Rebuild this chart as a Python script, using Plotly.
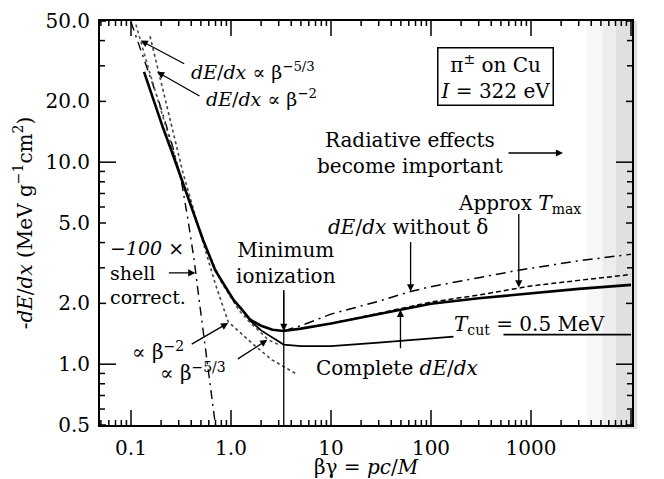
import numpy as np
import plotly.graph_objects as go

FONT = "DejaVu Serif"

# complete dE/dx (thick solid)
bg_complete = [0.135, 0.16, 0.209, 0.257, 0.33, 0.455, 0.526, 0.695, 0.91, 1.06, 1.3, 1.56, 2.0, 2.6,
               3.36, 5.0, 10, 20, 50, 100, 300, 1000, 3000, 10000]
de_complete = [28.0, 21.8, 14.8, 11.2, 7.9, 4.99, 4.12, 2.92, 2.33, 2.08, 1.85, 1.66, 1.55, 1.48,
               1.46, 1.50, 1.59, 1.70, 1.86, 1.99, 2.12, 2.25, 2.36, 2.47]

# dE/dx without density correction (dash-dot)
bg_nodelta = [3.36, 5, 10, 30, 62.5, 100, 300, 755, 3000, 10000]
de_nodelta = [1.46, 1.55, 1.77, 2.05, 2.29, 2.42, 2.68, 2.92, 3.25, 3.5]

# approximate T_max (dashed)
bg_tmax = [10, 20, 50, 100, 300, 1000, 3000, 10000]
de_tmax = [1.59, 1.71, 1.89, 2.03, 2.20, 2.44, 2.60, 2.78]

# restricted loss, T_cut = 0.5 MeV (thin solid, gap under the label)
bg_cut = [1.3, 1.56, 2.0, 2.67, 3.36, 5, 10, 30, 100, 168, None, 530, 1000, 10000]
de_cut = [1.85, 1.64, 1.47, 1.34, 1.25, 1.23, 1.23, 1.28, 1.34, 1.37, None, 1.40, 1.40, 1.40]

# low-energy power laws (dotted)
bg_b53 = [0.112, 0.13, 0.15, 0.2, 0.3, 0.5, 0.8, 1.2, 1.56, 2.0, 2.36, 3.0]
de_b53 = [48, 37, 29, 18, 9.2, 4.35, 2.55, 1.85, 1.60, 1.43, 1.32, 1.25]
bg_b2 = [0.155, 0.182, 0.2, 0.25, 0.33, 0.472, 0.695, 0.938, 1.3, 1.62, 2.57, 4.4]
de_b2 = [42, 30, 24.5, 15.5, 8.9, 4.8, 2.51, 1.62, 1.40, 1.27, 1.05, 0.90]

# -100 x shell correction (dash-dot)
bg_shell = [0.1, 0.138, 0.195, 0.258, 0.317, 0.372, 0.428, 0.48, 0.538, 0.605, 0.664, 0.71]
de_shell = [49.4, 31.3, 19.2, 12.2, 8.2, 5.17, 3.28, 2.08, 1.32, 0.835, 0.593, 0.47]

# minimum ionization marker
bg_min = [3.37, 3.37]
de_min = [0.5, 2.33]

xtick_vals = [0.1, 1, 10, 100, 1000, 10000]
xtick_text = ["0.1", "1.0", "10", "100", "1000", "10\u2009000"]
ytick_vals = [0.5, 1, 2, 5, 10, 20, 50]
ytick_text = ["0.5", "1.0", "2.0", "5.0", "10.0", "20.0", "50.0"]

XRANGE = [-1.31, 4.01]
YRANGE = [np.log10(0.5), np.log10(50)]
PLOT_W, PLOT_H = 532, 404  # plot area in px

fig = go.Figure()


def curve(x, y, width, dash="solid", color="black"):
    fig.add_trace(go.Scatter(x=x, y=y, mode="lines", showlegend=False, hoverinfo="skip",
                             line=dict(color=color, width=width, dash=dash)))


curve(bg_shell, de_shell, 1.4, "9px,5px,2px,5px")
curve(bg_b53, de_b53, 1.6, "dot", "#555")
curve(bg_b2, de_b2, 1.6, "dot", "#444")
curve(bg_nodelta, de_nodelta, 1.5, "10px,5px,2px,5px")
curve(bg_tmax, de_tmax, 1.5, "5px,3px")
curve(bg_cut, de_cut, 1.8)
curve(bg_complete, de_complete, 2.6)
curve(bg_min, de_min, 1.3)

# inside tick marks on all four sides (decades long, 2..9 short)
x_lo, x_hi = XRANGE
y_lo, y_hi = YRANGE
dx = (x_hi - x_lo) / PLOT_W   # log units per px along x
dy = (y_hi - y_lo) / PLOT_H   # log units per px along y
tx, ty = [], []
for e in range(-2, 5):
    for k in range(1, 10):
        v = float(k * 10.0 ** e)
        lv = np.log10(v)
        if x_lo < lv < x_hi + 1e-9:
            n = 15 if k == 1 else 5
            tx += [v, v, None, v, v, None]
            ty += [float(10 ** y_lo), float(10 ** (y_lo + n * dy)), None,
                   float(10 ** (y_hi - n * dy)), float(10 ** y_hi), None]
        if y_lo - 1e-9 < lv < y_hi + 1e-9:
            n = 16 if k == 1 else (6 if k in (2, 5) else 5)
            tx += [float(10 ** x_lo), float(10 ** (x_lo + n * dx)), None,
                   float(10 ** (x_hi - n * dx)), float(10 ** x_hi), None]
            ty += [v, v, None, v, v, None]
fig.add_trace(go.Scatter(x=tx, y=ty, mode="lines", line=dict(color="black", width=1.5),
                         showlegend=False, hoverinfo="skip"))


def px_x(px):
    return (px - 100) / PLOT_W


def px_y(py):
    return (425 - py) / PLOT_H


def label(text, px, py, xanchor="center", align="center", size=20):
    fig.add_annotation(x=px_x(px), y=px_y(py), xref="paper", yref="paper", text=text,
                       showarrow=False, xanchor=xanchor, yanchor="middle", align=align,
                       font=dict(size=size, family=FONT, color="black"))


def arrow(x, y, ax, ay):
    fig.add_annotation(x=np.log10(x), y=np.log10(y), xref="x", yref="y", text="",
                       showarrow=True, arrowhead=2, arrowsize=1.1, arrowwidth=1.3,
                       arrowcolor="black", ax=ax, ay=ay, standoff=0)


label("<i>dE</i>/<i>dx</i> \u221d \u03b2<sup>\u22125/3</sup>", 189, 71, "left", size=19)
arrow(0.125, 40, 45, 24)
label("<i>dE</i>/<i>dx</i> \u221d \u03b2<sup>\u22122</sup>", 204, 98, "left", size=19)
arrow(0.182, 28.0, 44, 25)

fig.add_annotation(x=px_x(495.5), y=px_y(76), xref="paper", yref="paper",
                   text="\u03c0<sup>\u00b1</sup> on Cu<br><i>I</i> = 322 eV", showarrow=False,
                   font=dict(size=20, family=FONT, color="black"), bordercolor="black",
                   borderwidth=1.5, borderpad=2, bgcolor="white", xanchor="center", yanchor="middle")

label("Radiative effects<br>become important", 410, 153)
fig.add_annotation(x=px_x(563), y=px_y(153), xref="paper", yref="paper", text="",
                   showarrow=True, arrowhead=2, arrowsize=1.1, arrowwidth=1.3,
                   arrowcolor="black", ax=-56, ay=0, standoff=0)

label("Approx <i>T</i><sub>max</sub>", 519, 204)
arrow(755, 2.40, 0, -75)
label("<i>dE</i>/<i>dx</i> without \u03b4", 326, 227, "left")
arrow(62.5, 2.29, 0, -51)

label("Minimum<br>ionization", 286, 263)
arrow(3.37, 1.46, 0, -41)

label("<i>\u2212100</i> \u00d7<br>shell<br>correct.", 108, 272, "left", "left", size=19)
arrow(0.44, 2.83, -28, 0)

label("\u221d \u03b2<sup>\u22122</sup>", 130, 351, "left")
arrow(0.938, 1.60, -38, 22)
label("\u221d \u03b2<sup>\u22125/3</sup>", 158, 372, "left")
arrow(2.31, 1.32, -31, 20)

label("<i>T</i><sub>cut</sub> = 0.5 MeV", 452, 325, "left")
label("Complete <i>dE</i>/<i>dx</i>", 314, 368, "left")
arrow(49.5, 1.86, 0, 40)

# faint scanner shading at the right edge
for x0, op in [(0.915, 0.03), (0.945, 0.04), (0.97, 0.05)]:
    fig.add_shape(type="rect", xref="paper", yref="paper", x0=x0, x1=1.01, y0=-0.01, y1=1.0,
                  fillcolor="black", opacity=op, line_width=0, layer="below")

label_font = dict(size=20, family=FONT, color="black")

# the page body adds an 8px offset, so the figure is 8px smaller with 8px less left/top margin
fig.update_layout(
    width=656, height=471,
    margin=dict(l=92, r=32, t=13, b=54, autoexpand=False),
    paper_bgcolor="white", plot_bgcolor="white",
    font=dict(family=FONT, size=20, color="black"),
    xaxis=dict(type="log", range=XRANGE, tickvals=xtick_vals, ticktext=xtick_text, ticks="",
               showgrid=False, zeroline=False, showline=True, linecolor="black", linewidth=1.8,
               mirror=True, tickfont=label_font, ticklabelstandoff=4, automargin=False,
               title=dict(text="\u03b2\u03b3 = <i>pc</i>/<i>M</i>", font=label_font, standoff=0)),
    yaxis=dict(type="log", range=YRANGE, tickvals=ytick_vals, ticktext=ytick_text, ticks="",
               showgrid=False, zeroline=False, showline=True, linecolor="black", linewidth=1.8,
               mirror=True, tickfont=label_font, ticklabelstandoff=4, automargin=False,
               title=dict(text="<i>-dE</i>/<i>dx</i> (MeV g<sup>\u22121</sup>cm<sup>2</sup>)",
                          font=label_font, standoff=8)),
)

fig.write_html("out.html")
